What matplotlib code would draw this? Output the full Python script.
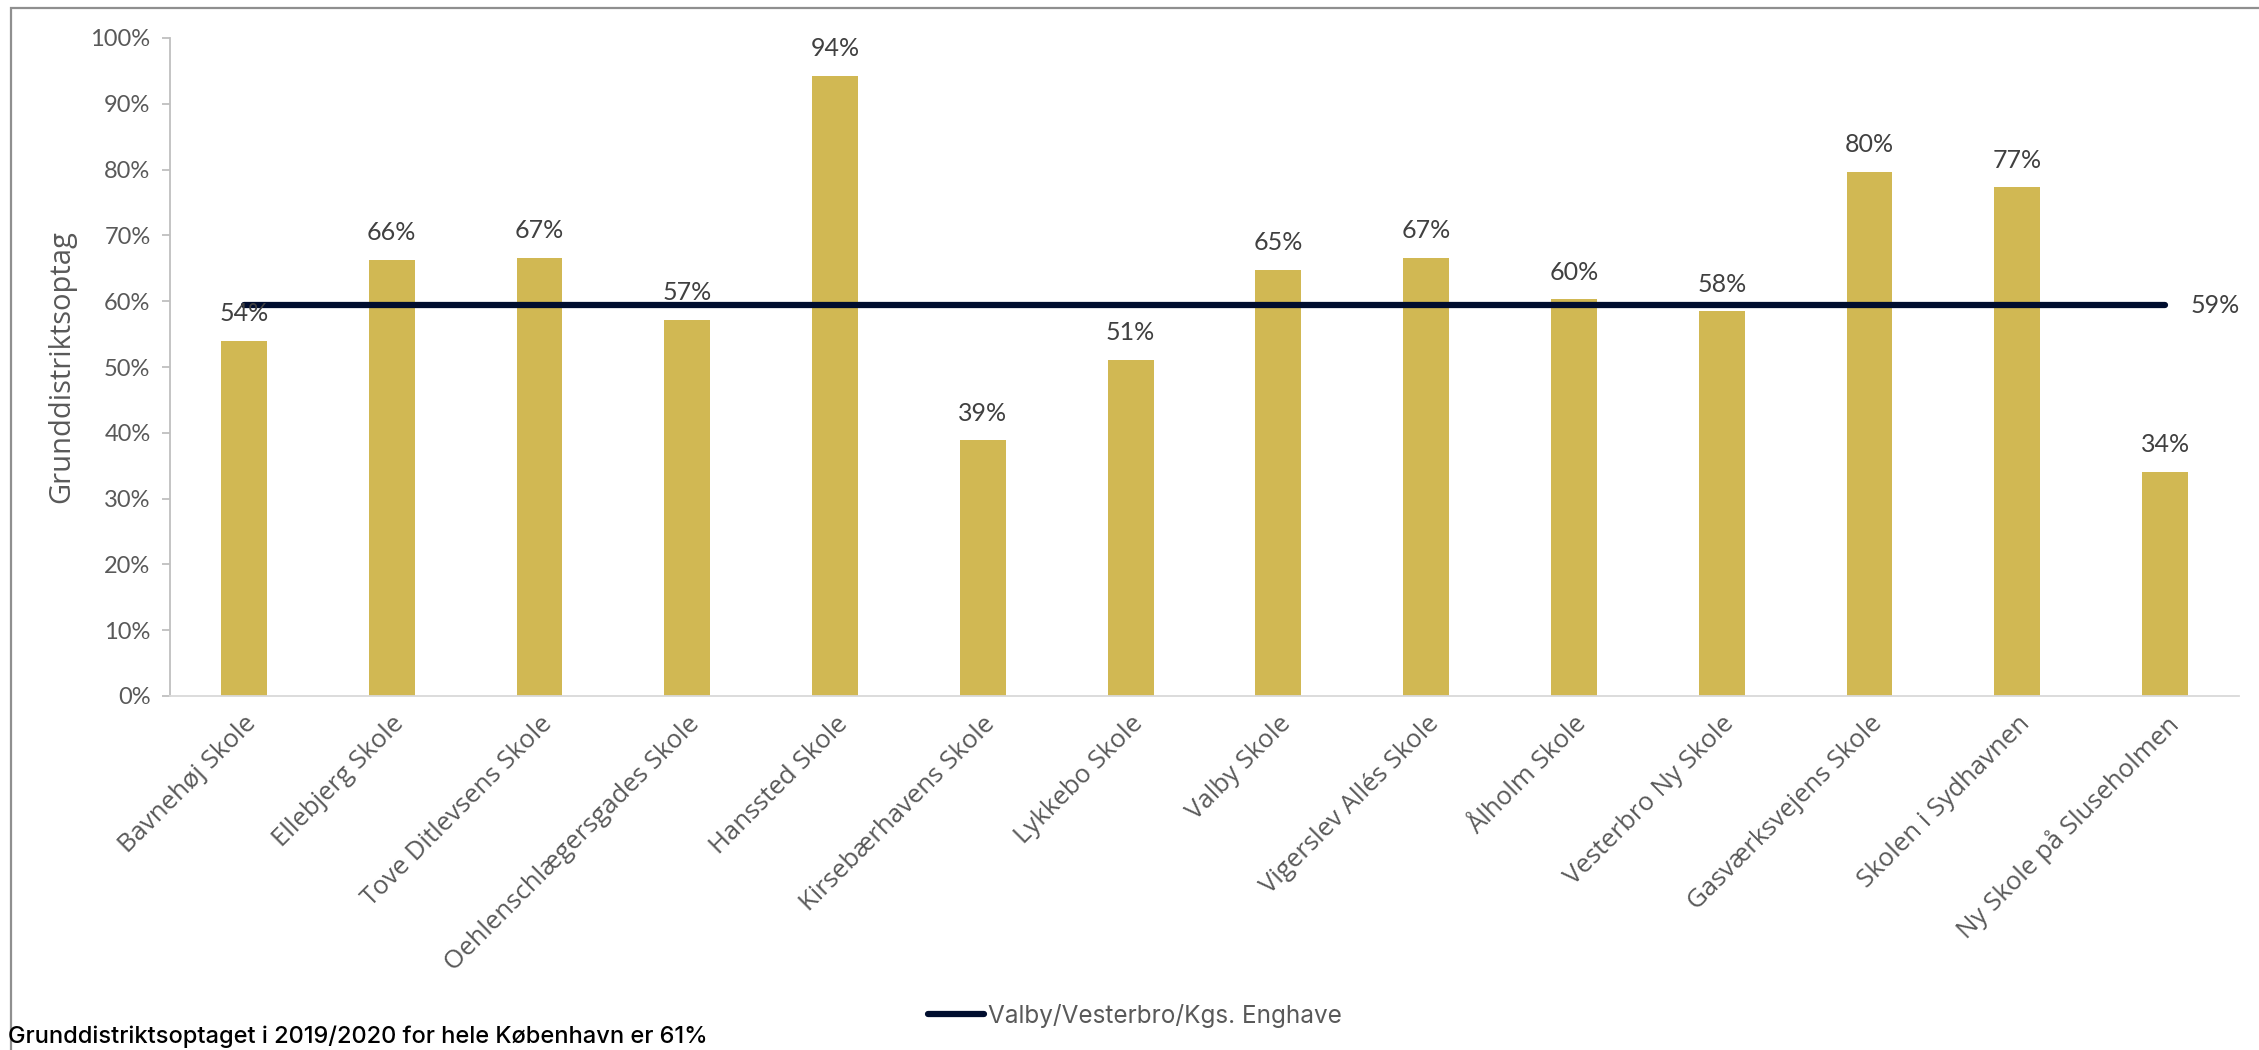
import matplotlib
matplotlib.use("Agg")
import matplotlib.pyplot as plt
from matplotlib.patches import Rectangle
from matplotlib.ticker import PercentFormatter

# data
schools = ["Bavnehøj Skole", "Ellebjerg Skole", "Tove Ditlevsens Skole",
           "Oehlenschlægersgades Skole", "Hanssted Skole", "Kirsebærhavens Skole",
           "Lykkebo Skole", "Valby Skole", "Vigerslev Allés Skole", "Ålholm Skole",
           "Vesterbro Ny Skole", "Gasværksvejens Skole", "Skolen i Sydhavnen",
           "Ny Skole på Sluseholmen"]
shares = [0.54, 0.663, 0.666, 0.572, 0.943, 0.389, 0.511, 0.648, 0.666,
          0.603, 0.585, 0.797, 0.773, 0.341]
share_labels = ["54%", "66%", "67%", "57%", "94%", "39%", "51%", "65%", "67%",
                "60%", "58%", "80%", "77%", "34%"]
area_share = 0.594
area_label = "59%"
area_name = "Valby/Vesterbro/Kgs. Enghave"
footnote = "Grunddistriktsoptaget i 2019/2020 for hele København er 61%"

gold = "#D1B853"
navy = "#000D2E"
grey_txt = "#595959"
label_txt = "#404040"

plt.rcParams["font.family"] = ["Lato", "DejaVu Sans"]

W, H = 2259, 1050
fig = plt.figure(figsize=(W / 100, H / 100), dpi=100)
ax = fig.add_axes([170 / W, 1 - 696 / H, (2239 - 170) / W, (696 - 38) / H])

x = list(range(len(schools)))
ax.bar(x, shares, width=0.31, color=gold, zorder=2)

for xi, v, lab in zip(x, shares, share_labels):
    ax.annotate(lab, (xi, v), xytext=(0, 11), textcoords="offset points",
                ha="center", va="bottom", fontsize=18, color=label_txt, zorder=4)

# district average line
ax.plot([x[0], x[-1]], [area_share, area_share], color=navy, lw=4.5,
        solid_capstyle="round", zorder=3, label=area_name)
ax.annotate(area_label, (x[-1], area_share), xytext=(18, 0),
            textcoords="offset points", ha="left", va="center",
            fontsize=18, color=label_txt)

ax.set_xlim(-0.5, len(schools) - 0.5)
ax.set_ylim(0, 1)
ax.set_yticks([i / 10 for i in range(11)])
ax.yaxis.set_major_formatter(PercentFormatter(1.0, decimals=0))
ax.tick_params(axis="y", labelsize=17, labelcolor=grey_txt, color="#BFBFBF",
               length=6, width=1.3, pad=8)

ax.set_xticks(x)
ax.set_xticklabels(schools, rotation=45, ha="right", va="top",
                   rotation_mode="anchor", fontsize=18.5, color=grey_txt,
                   family=["Open Sans", "DejaVu Sans"])
ax.tick_params(axis="x", length=0, pad=11)

for s in ["top", "right"]:
    ax.spines[s].set_visible(False)
ax.spines["left"].set_color("#BFBFBF")
ax.spines["left"].set_linewidth(1.3)
ax.spines["bottom"].set_color("#D9D9D9")
ax.spines["bottom"].set_linewidth(1.3)

fig.text(62 / W, 1 - 367 / H, "Grunddistriktsoptag", rotation=90,
         ha="center", va="center", fontsize=21, color=grey_txt,
         family=["Open Sans", "DejaVu Sans"])

leg = fig.legend(loc="center", bbox_to_anchor=(1135 / W, 1 - 1016 / H),
                 frameon=False, handlelength=2.3, handletextpad=0.15,
                 prop={"family": ["Inter", "DejaVu Sans"], "size": 17.5})
for t in leg.get_texts():
    t.set_color(grey_txt)

# slide frame around the chart
fig.patches.append(Rectangle((11 / W, -0.05), 1.2, 1 - 8 / H + 0.05,
                             transform=fig.transFigure, fill=False,
                             edgecolor="#8F8F8F", lw=1.6, zorder=0))

fig.text(8 / W, 1 - 1037 / H, footnote, ha="left", va="center",
         fontsize=17, color="black", family=["Inter", "DejaVu Sans"],
         weight="medium")

fig.savefig("out.png", dpi=100)
